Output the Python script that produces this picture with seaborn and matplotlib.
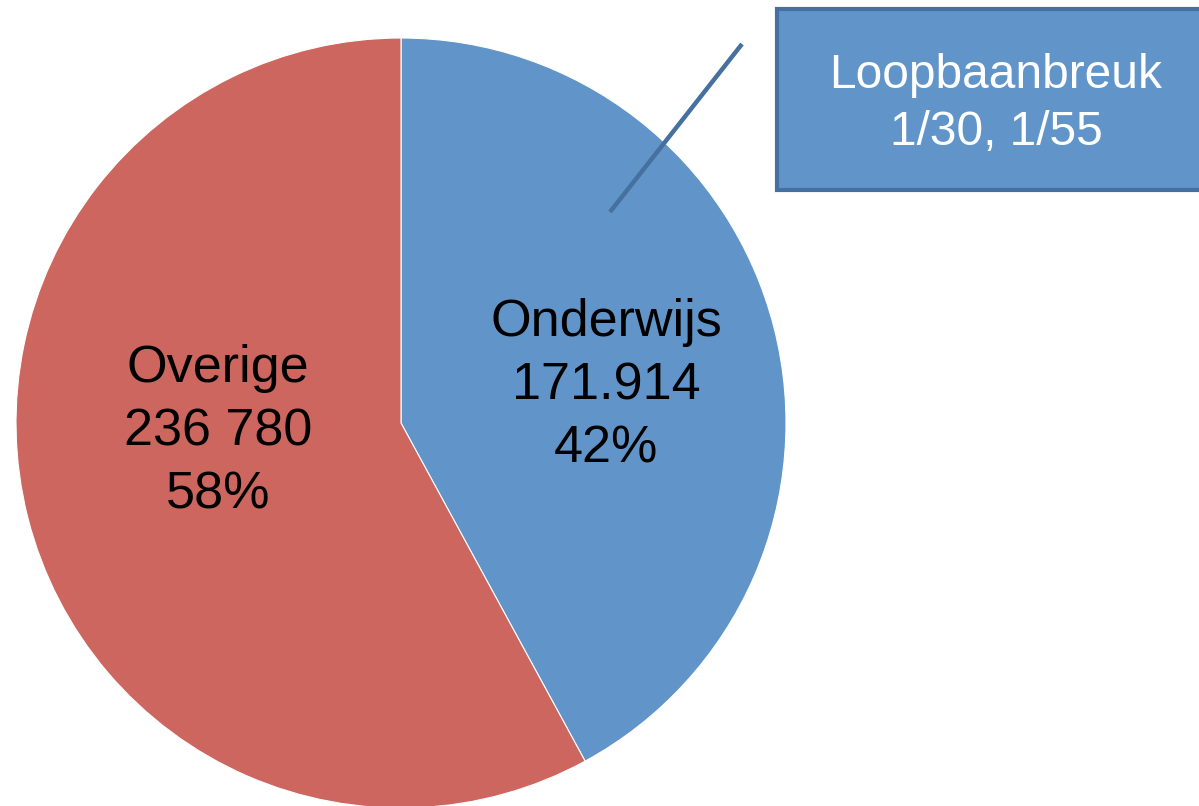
import matplotlib
matplotlib.use("Agg")
import matplotlib.pyplot as plt
import seaborn as sns
from matplotlib.patches import Rectangle

categories = ["Onderwijs", "Overige"]
values = [171914, 236780]
value_labels = ["171.914", "236 780"]
pct_labels = ["42%", "58%"]
callout_lines = ["Loopbaanbreuk", "1/30, 1/55"]

sns.set_theme(style="white")
plt.rcParams['font.family'] = ['Liberation Sans', 'DejaVu Sans']

colors = ["#6195CA", "#CC665F"]
W, H = 1199, 806
fig = plt.figure(figsize=(W / 100, H / 100), dpi=100)
ax = fig.add_axes([0, 0, 1, 1])
cx, cy, r = 401, H - 423, 385
ax.pie(values, colors=colors, startangle=90, counterclock=False,
       center=(cx, cy), radius=r, frame=True,
       wedgeprops=dict(edgecolor="white", linewidth=0.8))
ax.set_xlim(0, W)
ax.set_ylim(0, H)
ax.set_aspect("equal")
ax.axis("off")

# slice labels
ax.text(606, H - 386, f"{categories[0]}\n{value_labels[0]}\n{pct_labels[0]}",
        ha="center", va="center", fontsize=37.5, color="black", linespacing=1.38)
ax.text(218, H - 432, f"{categories[1]}\n{value_labels[1]}\n{pct_labels[1]}",
        ha="center", va="center", fontsize=37.5, color="black", linespacing=1.38)

# callout
border = "#46709F"
ax.plot([610, 742], [H - 212, H - 44], color=border, lw=3.2, solid_capstyle="butt")
ax.add_patch(Rectangle((777, H - 190), 440, 181, facecolor="#6195CA",
                       edgecolor=border, linewidth=3, clip_on=False))
ax.text(996, H - 104, "\n".join(callout_lines), ha="center", va="center",
        fontsize=34.5, color="white", linespacing=1.34)

fig.savefig("out.png", dpi=100)
